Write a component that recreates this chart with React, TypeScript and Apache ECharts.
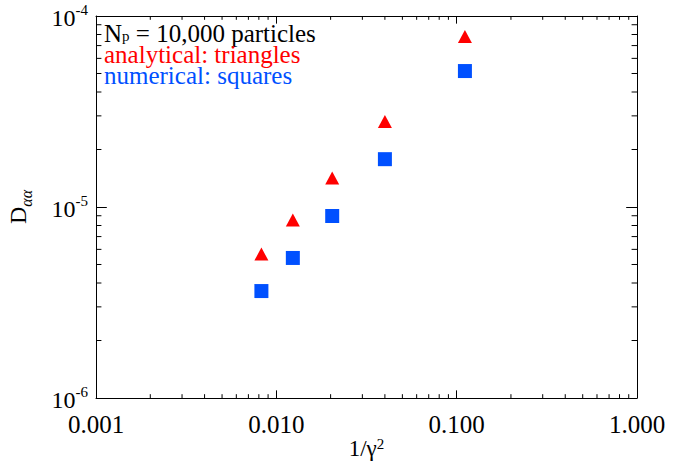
import React, { useEffect, useRef } from "react";
import * as echarts from "echarts";

// 1/gamma^2 for gamma = 11, 9, 7, 5, 3
const xValues = [1 / 121, 1 / 81, 1 / 49, 1 / 25, 1 / 9];
const analytical = [5.67e-6, 8.55e-6, 1.42e-5, 2.8e-5, 7.8e-5];
const numerical = [3.63e-6, 5.41e-6, 8.97e-6, 1.78e-5, 5.15e-5];

const xTickLabels = ["0.001", "0.010", "0.100", "1.000"];
const yTickExponents = ["-6", "-5", "-4"];

const X_MIN = 0.001;
const X_MAX = 1;
const Y_MIN = 1e-6;
const Y_MAX = 1e-4;
const minorMultipliers = [2, 3, 4, 5, 6, 7, 8, 9];
const xDecades = [0.001, 0.01, 0.1];
const yDecades = [1e-6, 1e-5];

const FONT = "'Liberation Serif', 'Times New Roman', serif";
const RED = "#ff0000";
const BLUE = "#0050ff";

export default function App() {
  const ref = useRef<HTMLDivElement>(null);
  useEffect(() => {
    document.body.style.margin = "0";
    if (!ref.current) return;
    const chart = echarts.init(ref.current, undefined, { renderer: "svg" });

    const xMinor: number[][] = [];
    xDecades.forEach((d) => minorMultipliers.forEach((m) => xMinor.push([d * m, Y_MIN])));
    const yMinor: number[][] = [];
    yDecades.forEach((d) => minorMultipliers.forEach((m) => yMinor.push([X_MIN, d * m])));

    const gridH = 382;
    const gridW = 541;
    const xMajorLen = 0.02 * gridH;
    const yMajorLen = 0.02 * gridW;

    const axisLine = { show: true, onZero: false, lineStyle: { color: "#000", width: 1 } };

    const option: any = {
      animation: false,
      backgroundColor: "#fff",
      grid: { left: 96, top: 16, width: gridW, height: gridH, containLabel: false, outerBoundsMode: "none" },
      xAxis: [
        {
          type: "log",
          logBase: 10,
          min: X_MIN,
          max: X_MAX,
          position: "bottom",
          axisLine,
          axisTick: { show: true, inside: true, length: xMajorLen, lineStyle: { color: "#000" } },
          splitLine: { show: false },
          axisLabel: {
            margin: 14,
            fontFamily: FONT,
            fontSize: 25,
            color: "#000",
            formatter: (v: number) => xTickLabels[Math.round(Math.log10(v)) + 3] ?? "",
          },
          name: "{a|1/γ}{s|2}",
          nameLocation: "middle",
          nameGap: 38,
          nameMoveOverlap: false,
          nameTextStyle: {
            rich: {
              a: { fontFamily: FONT, fontSize: 23, color: "#000", lineHeight: 24, verticalAlign: "bottom" },
              s: { fontFamily: FONT, fontSize: 15, color: "#000", lineHeight: 14, verticalAlign: "top" },
            },
          },
        },
        {
          type: "log",
          logBase: 10,
          min: X_MIN,
          max: X_MAX,
          position: "top",
          axisLine,
          axisTick: { show: true, inside: true, length: xMajorLen, lineStyle: { color: "#000" } },
          splitLine: { show: false },
          axisLabel: { show: false },
        },
      ],
      yAxis: [
        {
          type: "log",
          logBase: 10,
          min: Y_MIN,
          max: Y_MAX,
          position: "left",
          axisLine,
          axisTick: { show: true, inside: true, length: yMajorLen, lineStyle: { color: "#000" } },
          splitLine: { show: false },
          axisLabel: {
            margin: 8,
            formatter: (v: number) => `{b|10}{s|${yTickExponents[Math.round(Math.log10(v)) + 6] ?? ""}}`,
            rich: {
              b: { fontFamily: FONT, fontSize: 24, color: "#000", lineHeight: 28, verticalAlign: "bottom" },
              s: { fontFamily: FONT, fontSize: 15, color: "#000", lineHeight: 16, verticalAlign: "top" },
            },
          },
          name: "{d|D}{s|αα}",
          nameLocation: "middle",
          nameRotate: 90,
          nameGap: 62,
          nameMoveOverlap: false,
          nameTextStyle: {
            rich: {
              d: { fontFamily: FONT, fontSize: 24, color: "#000", lineHeight: 28, verticalAlign: "top" },
              s: { fontFamily: FONT, fontSize: 16, fontStyle: "italic", color: "#000", lineHeight: 16, verticalAlign: "bottom" },
            },
          },
        },
        {
          type: "log",
          logBase: 10,
          min: Y_MIN,
          max: Y_MAX,
          position: "right",
          axisLine,
          axisTick: { show: true, inside: true, length: yMajorLen, lineStyle: { color: "#000" } },
          splitLine: { show: false },
          axisLabel: { show: false },
        },
      ],
      graphic: [
        {
          type: "text",
          left: 104,
          top: 21,
          style: {
            text: "{a|N}{s|p}{a| = 10,000 particles}\n{r|analytical: triangles}\n{b|numerical: squares}",
            rich: {
              a: { fontFamily: FONT, fontSize: 25, fill: "#000", lineHeight: 22, verticalAlign: "top" },
              s: { fontFamily: FONT, fontSize: 15, fill: "#000", lineHeight: 8, verticalAlign: "bottom" },
              r: { fontFamily: FONT, fontSize: 25, fill: RED, lineHeight: 22 },
              b: { fontFamily: FONT, fontSize: 25, fill: BLUE, lineHeight: 21 },
            },
          },
        },
      ],
      series: [
        {
          type: "custom",
          silent: true,
          xAxisIndex: 0,
          yAxisIndex: 0,
          data: xMinor,
          renderItem: (_p: any, api: any) => {
            const v = api.value(0);
            const pb = api.coord([v, Y_MIN]);
            const pt = api.coord([v, Y_MAX]);
            const l = xMajorLen / 2;
            return {
              type: "group",
              children: [
                { type: "line", shape: { x1: pb[0], y1: pb[1], x2: pb[0], y2: pb[1] - l }, style: { stroke: "#000", lineWidth: 1 } },
                { type: "line", shape: { x1: pt[0], y1: pt[1], x2: pt[0], y2: pt[1] + l }, style: { stroke: "#000", lineWidth: 1 } },
              ],
            };
          },
        },
        {
          type: "custom",
          silent: true,
          xAxisIndex: 0,
          yAxisIndex: 0,
          data: yMinor,
          renderItem: (_p: any, api: any) => {
            const v = api.value(1);
            const pl = api.coord([X_MIN, v]);
            const pr = api.coord([X_MAX, v]);
            const l = yMajorLen / 2;
            return {
              type: "group",
              children: [
                { type: "line", shape: { x1: pl[0], y1: pl[1], x2: pl[0] + l, y2: pl[1] }, style: { stroke: "#000", lineWidth: 1 } },
                { type: "line", shape: { x1: pr[0], y1: pr[1], x2: pr[0] - l, y2: pr[1] }, style: { stroke: "#000", lineWidth: 1 } },
              ],
            };
          },
        },
        {
          type: "scatter",
          name: "analytical",
          symbol: "triangle",
          symbolSize: [14, 13],
          itemStyle: { color: RED, opacity: 1 },
          data: xValues.map((x, i) => [x, analytical[i]]),
        },
        {
          type: "scatter",
          name: "numerical",
          symbol: "rect",
          symbolSize: 14,
          itemStyle: { color: BLUE, opacity: 1 },
          data: xValues.map((x, i) => [x, numerical[i]]),
        },
      ],
    };

    chart.setOption(option);
    return () => chart.dispose();
  }, []);

  return <div ref={ref} style={{ width: 682, height: 464 }} />;
}
